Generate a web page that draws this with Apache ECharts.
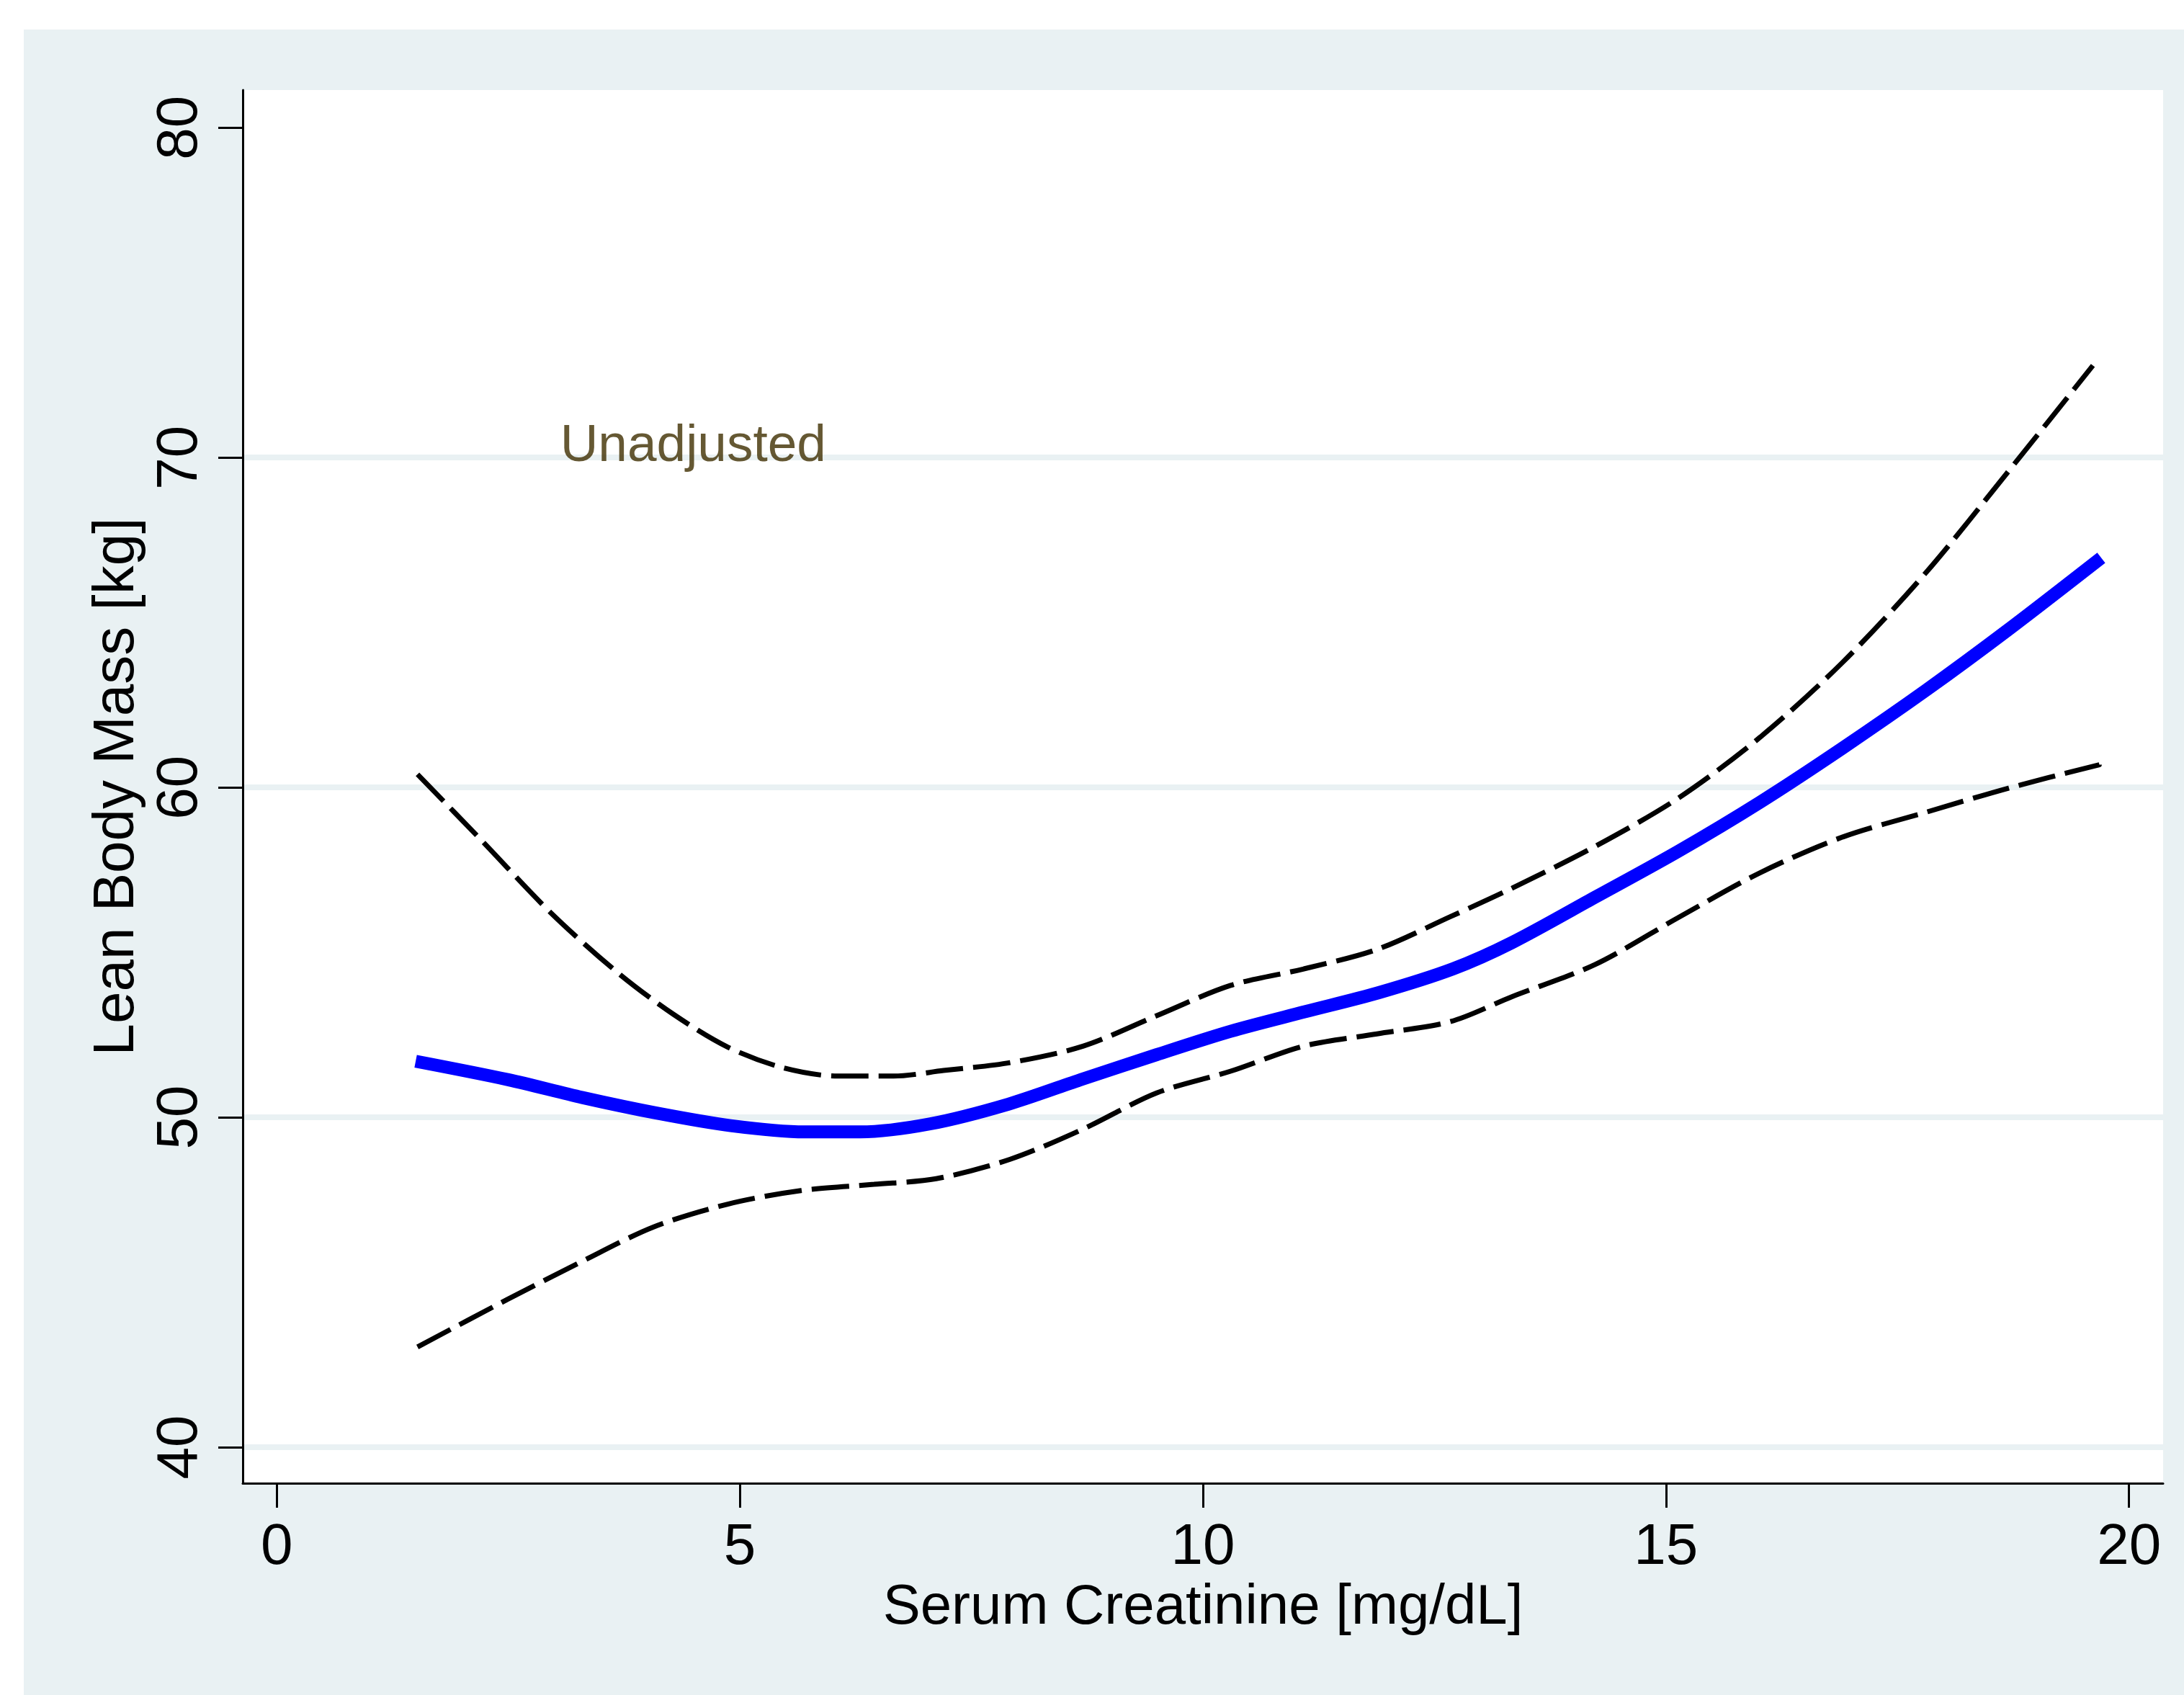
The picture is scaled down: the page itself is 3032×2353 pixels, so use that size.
<!DOCTYPE html>
<html>
<head>
<meta charset="utf-8">
<script src="https://cdn.jsdelivr.net/npm/echarts@6/dist/echarts.min.js"></script>
<style>
  html, body { margin: 0; padding: 0; background: #ffffff; width: 3032px; height: 2353px; overflow: hidden; }
  #chart { position: absolute; left: 33px; top: 41px; width: 2999px; height: 2312px; }
</style>
</head>
<body>
<div id="chart"></div>
<script>
// ---- data ----
const xTicks = [0, 5, 10, 15, 20];
const yTicks = [40, 50, 60, 70, 80];
const gridValues = [40, 50, 60, 70];

const fitX = [1.5, 2.5, 3.3, 4.1, 4.9, 5.7, 6.3, 7.05, 7.9, 8.7, 9.5, 10.3, 11.1, 11.9, 12.7, 13.34, 14.24, 15.13, 16.02, 16.91, 17.81, 18.7, 19.7];
const fitY = [51.70, 51.14, 50.60, 50.13, 49.75, 49.56, 49.56, 49.80, 50.40, 51.16, 51.90, 52.61, 53.20, 53.78, 54.50, 55.30, 56.68, 58.06, 59.56, 61.20, 62.95, 64.79, 66.96];

const upperX = [1.52, 2.21, 2.96, 3.68, 4.28, 4.87, 5.47, 6.06, 6.66, 7.2, 7.92, 8.71, 9.5, 10.3, 11.09, 11.88, 12.67, 13.34, 14.24, 15.13, 16.02, 16.91, 17.81, 18.7, 19.61];
const upperY = [60.40, 58.40, 56.20, 54.39, 53.13, 52.13, 51.50, 51.25, 51.25, 51.42, 51.66, 52.16, 53.08, 54.00, 54.50, 55.09, 56.08, 56.95, 58.22, 59.67, 61.53, 63.80, 66.52, 69.59, 72.79];

const lowerX = [1.52, 2.49, 3.28, 4.07, 4.87, 5.66, 6.45, 7.12, 7.92, 8.71, 9.5, 10.3, 11.09, 11.88, 12.67, 13.34, 14.24, 15.13, 16.02, 16.91, 17.81, 18.7, 19.68];
const lowerY = [43.04, 44.48, 45.61, 46.68, 47.37, 47.78, 47.97, 48.14, 48.73, 49.65, 50.74, 51.40, 52.16, 52.53, 52.90, 53.66, 54.64, 56.05, 57.42, 58.50, 59.25, 59.98, 60.69];

const noteText = 'Unadjusted';
const notePos = [3.06, 70.33];

const xName = 'Serum Creatinine [mg/dL]';
const yName = 'Lean Body Mass [kg]';

// ---- chart ----
const zip = (xs, ys) => xs.map((x, i) => [x, ys[i]]);
const FONT = 'Liberation Sans';
const BG = '#e9f1f3';

const chart = echarts.init(document.getElementById('chart'), null, { renderer: 'canvas' });
chart.setOption({
  animation: false,
  backgroundColor: BG,
  grid: { left: 304, top: 84, right: 29, bottom: 294, show: true, backgroundColor: '#ffffff', borderWidth: 0 },
  xAxis: {
    type: 'value', min: -0.367, max: 20.368, z: 5,
    name: xName, nameLocation: 'middle', nameGap: 129,
    nameTextStyle: { fontFamily: FONT, fontSize: 78, color: '#000' },
    axisLine: { show: true, onZero: false, lineStyle: { color: '#000', width: 3 } },
    axisTick: { show: true, length: 34, customValues: xTicks, lineStyle: { color: '#000', width: 3 } },
    axisLabel: { customValues: xTicks, margin: 50, fontFamily: FONT, fontSize: 80, color: '#000' },
    splitLine: { show: false }
  },
  yAxis: {
    type: 'value', min: 38.91, max: 81.14, z: 5,
    name: yName, nameLocation: 'middle', nameGap: 133,
    nameTextStyle: { fontFamily: FONT, fontSize: 80, color: '#000' },
    axisLine: { show: true, onZero: false, lineStyle: { color: '#000', width: 3 } },
    axisTick: { show: true, length: 34, customValues: yTicks, lineStyle: { color: '#000', width: 3 } },
    axisLabel: { customValues: yTicks, rotate: 90, margin: 46, fontFamily: FONT, fontSize: 80, color: '#000' },
    splitLine: { show: false }
  },
  series: [
    {
      type: 'line', data: [], z: 1, silent: true,
      markLine: {
        z: 1, silent: true, symbol: ['none', 'none'], label: { show: false },
        lineStyle: { type: 'solid', width: 8, color: BG },
        emphasis: { disabled: true },
        data: gridValues.map(v => ({ yAxis: v }))
      }
    },
    {
      type: 'line', data: zip(upperX, upperY), z: 3, showSymbol: false, smooth: 0.3,
      lineStyle: { color: '#000', width: 7, type: [52, 14] }
    },
    {
      type: 'line', data: zip(lowerX, lowerY), z: 3, showSymbol: false, smooth: 0.3,
      lineStyle: { color: '#000', width: 7, type: [52, 14] }
    },
    {
      type: 'line', data: zip(fitX, fitY), z: 4, showSymbol: false, smooth: 0.3,
      lineStyle: { color: '#0000ff', width: 18 }
    },
    {
      type: 'scatter', data: [notePos], z: 6, symbolSize: 0, silent: true,
      label: { show: true, position: 'right', distance: 0, formatter: noteText,
               fontFamily: FONT, fontSize: 73, color: '#3e2e00' }
    }
  ]
});
</script>
</body>
</html>
